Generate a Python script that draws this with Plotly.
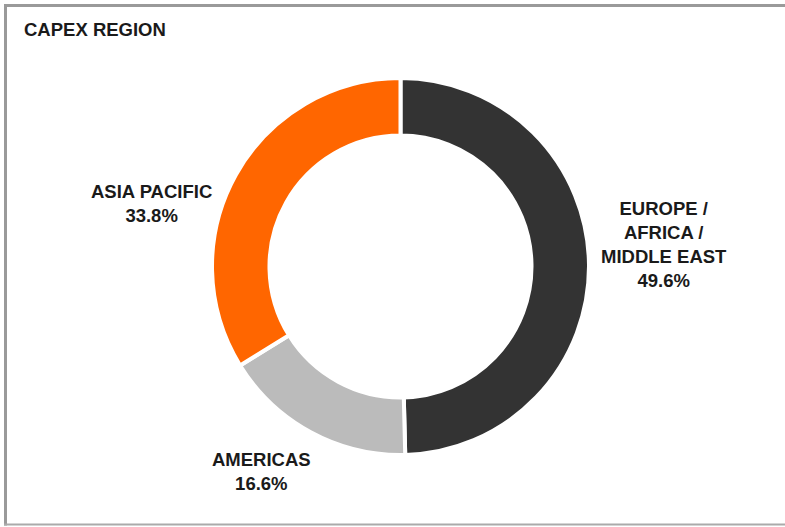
import plotly.graph_objects as go

W, H = 785, 527

title_text = "CAPEX REGION"
regions = ["EUROPE / AFRICA / MIDDLE EAST", "AMERICAS", "ASIA PACIFIC"]
region_lines = ["EUROPE /<br>AFRICA /<br>MIDDLE EAST", "AMERICAS", "ASIA PACIFIC"]
shares = [49.6, 16.6, 33.8]
colors = ["#333333", "#bbbbbb", "#ff6600"]

# layout helpers (pixel positions of the donut and label blocks)
cx, cy, r = 400.5, 266.5, 188.5
label_pos = [(664, 245), (261.5, 471), (151, 203)]

def px(x):
    return x / W

def py(y):
    return 1 - y / H

fig = go.Figure()
fig.add_trace(go.Pie(
    labels=regions,
    values=shares,
    hole=0.695,
    sort=False,
    direction="clockwise",
    rotation=0,
    textinfo="none",
    hoverinfo="label+percent",
    marker=dict(colors=colors, line=dict(color="white", width=4)),
    domain=dict(x=[px(cx - r), px(cx + r)], y=[py(cy + r), py(cy - r)]),
    showlegend=False,
))

font = dict(family="Liberation Sans, Arial, Helvetica, sans-serif", size=18.5, color="#1a1a1a")

for name, val, (lx, ly) in zip(region_lines, shares, label_pos):
    fig.add_annotation(
        text=f"<b>{name}<br>{val:.1f}%</b>",
        x=px(lx), y=py(ly), xref="paper", yref="paper",
        xanchor="center", yanchor="middle", align="center",
        showarrow=False, font=font,
    )

fig.add_annotation(
    text=f"<b>{title_text}</b>",
    x=px(22), y=py(29), xref="paper", yref="paper",
    xanchor="left", yanchor="middle", showarrow=False, font=font,
)

border = "#9a9a9a"
fig.add_shape(type="line", xref="paper", yref="paper", x0=px(4), x1=px(785), y0=py(5.5), y1=py(5.5),
              line=dict(color=border, width=3))
fig.add_shape(type="line", xref="paper", yref="paper", x0=px(5.5), x1=px(5.5), y0=py(4), y1=py(525.5),
              line=dict(color=border, width=3))
fig.add_shape(type="line", xref="paper", yref="paper", x0=px(4), x1=px(785), y0=py(524.5), y1=py(524.5),
              line=dict(color="#aaaaaa", width=2))

fig.update_layout(
    width=W, height=H,
    margin=dict(l=0, r=0, t=0, b=0),
    paper_bgcolor="white", plot_bgcolor="white",
)

fig.write_html("out.html")
